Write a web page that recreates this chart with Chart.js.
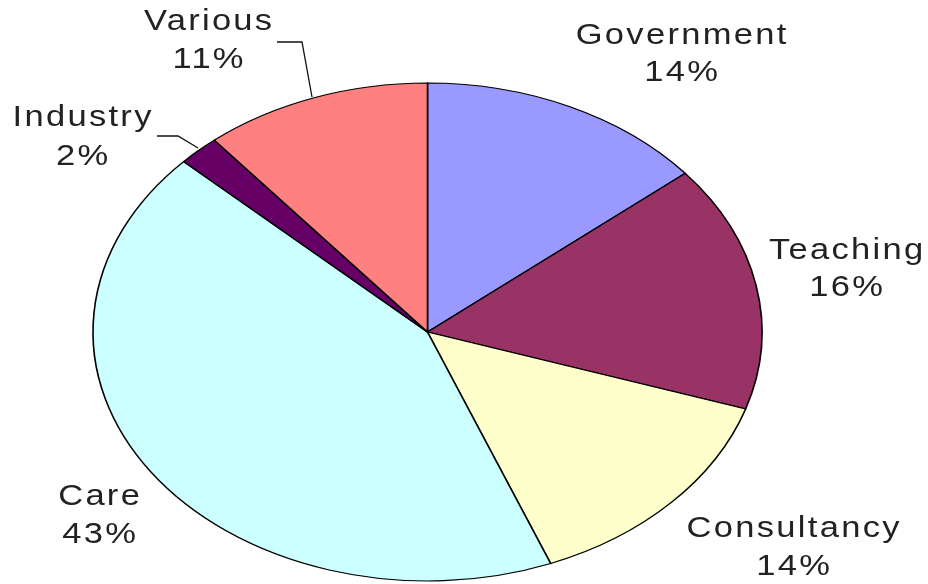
<!DOCTYPE html>
<html>
<head>
<meta charset="utf-8">
<style>
  html, body { margin: 0; padding: 0; background: #ffffff; }
  #wrap { width: 928px; height: 584px; position: relative; }
  canvas { display: block; }
</style>
<script src="https://cdn.jsdelivr.net/npm/chart.js@4/dist/chart.umd.min.js"></script>
</head>
<body>
<div id="wrap"><canvas id="c" width="928" height="584"></canvas></div>
<script>
// ---- data ----
const categories = ["Government", "Teaching", "Consultancy", "Care", "Industry", "Various"];
const shares = [14, 16, 14, 43, 2, 11];
const sliceColors = ["#9999FF", "#993366", "#FFFFCC", "#CCFFFF", "#660066", "#FF8080"];

// ---- layout (styles/positions only) ----
const CX = 427.5, CY = 332, RY = 249, RX = 334.5;
const SX = RX / RY;
// label anchor positions: [centerX, baseline1, baseline2]
const labelLayout = [
  [681, 44, 81],
  [846, 259, 296],
  [793, 537, 575],
  [99, 505, 543],
  [82, 126, 165],
  [208, 30, 68]
];
const leaderLines = {
  4: [[157, 136], [178, 136], [198, 148]],
  5: [[277, 42], [302, 42], [312, 97]]
};
const LETTER_SP = 2;
const TEXT_SX = 1.15;

const ellipsePlugin = {
  id: 'ellipse',
  beforeDatasetsDraw(chart) {
    const ctx = chart.ctx;
    ctx.save();
    ctx.translate(CX, CY);
    ctx.scale(SX, 1);
    ctx.translate(-CX, -CY);
  },
  afterDatasetsDraw(chart) {
    chart.ctx.restore();
  }
};

const labelPlugin = {
  id: 'pieLabels',
  afterDraw(chart) {
    const ctx = chart.ctx;
    const total = shares.reduce((a, b) => a + b, 0);
    ctx.save();
    // leader lines
    ctx.strokeStyle = '#111111';
    ctx.lineWidth = 1.3;
    Object.keys(leaderLines).forEach(k => {
      const pts = leaderLines[k];
      ctx.beginPath();
      ctx.moveTo(pts[0][0], pts[0][1]);
      for (let i = 1; i < pts.length; i++) ctx.lineTo(pts[i][0], pts[i][1]);
      ctx.stroke();
    });
    ctx.fillStyle = '#222222';
    ctx.font = '30px "Liberation Sans", Arial, sans-serif';
    ctx.textAlign = 'center';
    ctx.textBaseline = 'alphabetic';
    ctx.letterSpacing = LETTER_SP + 'px';
    categories.forEach((name, i) => {
      const [x, b1, b2] = labelLayout[i];
      const pct = Math.round(shares[i] / total * 100) + '%';
      ctx.save();
      ctx.translate(x, 0);
      ctx.scale(TEXT_SX, 1);
      ctx.fillText(name, LETTER_SP / 2, b1);
      ctx.fillText(pct, LETTER_SP / 2, b2);
      ctx.restore();
    });
    ctx.restore();
  }
};

new Chart(document.getElementById('c'), {
  type: 'pie',
  data: {
    labels: categories,
    datasets: [{
      data: shares,
      backgroundColor: sliceColors,
      borderColor: '#000000',
      borderWidth: 1.2,
      borderJoinStyle: 'miter',
      borderAlign: 'center',
      radius: RY
    }]
  },
  options: {
    responsive: false,
    animation: false,
    events: [],
    layout: {
      padding: { top: CY - RY - 1, bottom: 584 - (CY + RY) - 1, left: CX - RY - 1, right: 928 - (CX + RY) - 1 }
    },
    plugins: {
      legend: { display: false },
      tooltip: { enabled: false }
    }
  },
  plugins: [ellipsePlugin, labelPlugin]
});
</script>
</body>
</html>
